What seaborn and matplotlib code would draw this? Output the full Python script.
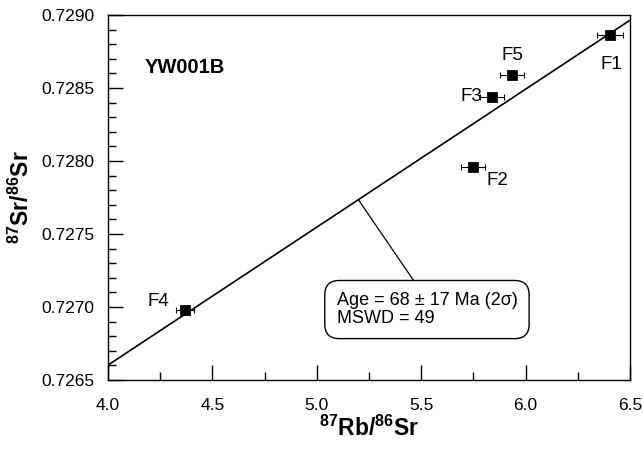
import matplotlib
matplotlib.use("Agg")
import matplotlib.pyplot as plt
import seaborn as sns
import numpy as np
import pandas as pd

# ---- data ----
labels = ["F1", "F2", "F3", "F4", "F5"]
rb_sr = [6.404, 5.750, 5.840, 4.369, 5.935]
sr_sr = [0.72886, 0.72796, 0.72844, 0.72698, 0.72859]
rb_err = [0.064, 0.0575, 0.058, 0.044, 0.059]
iso_slope = 0.000945
iso_intercept = 0.722822
x_ticks = [4.0, 4.5, 5.0, 5.5, 6.0, 6.5]
y_ticks = [0.7265, 0.7270, 0.7275, 0.7280, 0.7285, 0.7290]
sample_name = "YW001B"
age_text = "Age = 68 \u00b1 17 Ma (2\u03c3)\nMSWD = 49"

df = pd.DataFrame({"x": rb_sr, "y": sr_sr, "err": rb_err, "label": labels})

sns.set_style("ticks", {"axes.edgecolor": "black", "text.color": "black",
                        "axes.labelcolor": "black", "xtick.color": "black",
                        "ytick.color": "black"})
plt.rcParams["font.family"] = ["Liberation Sans", "DejaVu Sans"]
plt.rcParams["mathtext.fontset"] = "custom"
plt.rcParams["mathtext.rm"] = "Liberation Sans"
plt.rcParams["mathtext.bf"] = "Liberation Sans:bold"

fig = plt.figure(figsize=(6.43, 4.49), dpi=100)
ax = fig.add_axes([108/643, 1-380/449, 522/643, 365/449])

# isochron line
xl = np.array([x_ticks[0], x_ticks[-1]])
line_df = pd.DataFrame({"x": xl, "y": iso_intercept + iso_slope * xl})
sns.lineplot(data=line_df, x="x", y="y", ax=ax, color="black", lw=1.2)

# error bars
ax.errorbar(df["x"], df["y"], xerr=df["err"], fmt="none", ecolor="black",
            elinewidth=0.8, capsize=2.5, capthick=0.8, zorder=3)
sns.scatterplot(data=df, x="x", y="y", ax=ax, marker="s", s=48,
                color="black", edgecolor="black", zorder=4)

# point labels (offsets in points)
offsets = {"F1": (1, -21), "F2": (17, -10), "F3": (-15, 0), "F4": (-19, 6), "F5": (0, 14)}
for lab, x, y in zip(labels, rb_sr, sr_sr):
    dx, dy = offsets[lab]
    ax.annotate(lab, (x, y), xytext=(dx, dy), textcoords="offset points",
                ha="center", va="center", fontsize=13.5, color="black")

ax.set_xlim(x_ticks[0], x_ticks[-1])
ax.set_ylim(y_ticks[0], y_ticks[-1])
ax.set_xticks(x_ticks)
ax.set_yticks(y_ticks)
ax.set_xticklabels([f"{v:.1f}" for v in x_ticks])
ax.set_yticklabels([f"{v:.4f}" for v in y_ticks])
ax.set_xticks(np.arange(4.25, 6.5, 0.5), minor=True)
ax.set_yticks(np.arange(0.7266, 0.72895, 0.0001), minor=True)
ax.tick_params(which="both", direction="in", width=1.0, labelsize=12.5,
               color="black", labelcolor="black")
ax.tick_params(axis="x", which="major", length=11, pad=13)
ax.tick_params(axis="x", which="minor", length=6)
ax.tick_params(axis="y", which="major", length=11, pad=10)
ax.tick_params(axis="y", which="minor", length=6)
for s in ax.spines.values():
    s.set_linewidth(1.0)
    s.set_color("black")

ax.set_xlabel(r"$^{\mathbf{87}}$Rb/$^{\mathbf{86}}$Sr", fontsize=16.5,
              fontweight="bold", labelpad=2, color="black")
ax.set_ylabel(r"$^{\mathbf{87}}$Sr/$^{\mathbf{86}}$Sr", fontsize=16.5,
              fontweight="bold", labelpad=5, color="black")

ax.text(0.07, 0.857, sample_name, transform=ax.transAxes, fontsize=14.5,
        fontweight="bold", ha="left", va="center", color="black")

# leader line from isochron to box
lx0 = 5.199
ax.plot([lx0, 5.462], [iso_intercept + iso_slope * lx0, 0.727185],
        color="black", lw=0.9)
ax.text(0.611, 0.193, age_text, transform=ax.transAxes, fontsize=13,
        ha="center", va="center", multialignment="left", linespacing=1.05,
        color="black",
        bbox=dict(boxstyle="round,pad=0.65,rounding_size=0.8", fc="white",
                  ec="black", lw=1.0))

fig.savefig("out.png", dpi=100)
